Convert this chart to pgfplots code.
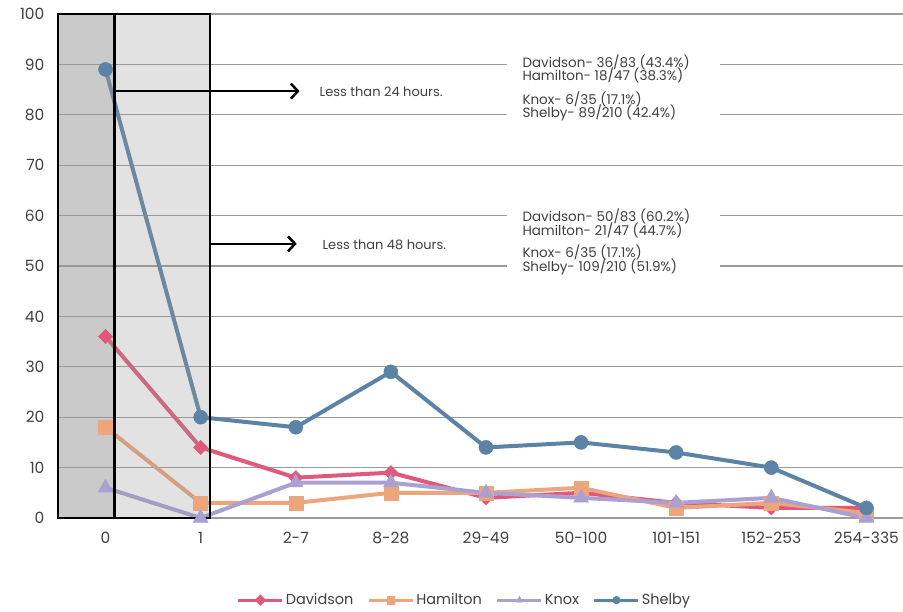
\documentclass[border=0pt]{standalone}
\usepackage{fontspec}
\setmainfont{Poppins}
\usepackage{pgfplots}
\usepackage{pgfplotstable}
\pgfplotsset{compat=1.18}
\usetikzlibrary{arrows.meta}
\definecolor{dav}{RGB}{224,88,122}
\definecolor{ham}{RGB}{236,165,125}
\definecolor{knox}{RGB}{170,160,210}
\definecolor{shel}{RGB}{92,130,166}
\definecolor{gridc}{RGB}{155,155,155}
\definecolor{tickc}{RGB}{64,64,64}
\definecolor{shadegray}{RGB}{150,150,150}

% counts per delay bucket (hours)
\pgfplotstableread{
x dav ham knox shel
0 36 18 6 89
1 14 3 0 20
2 8 3 7 18
3 9 5 7 29
4 4 5 5 14
5 5 6 4 15
6 3 2 3 13
7 2 3 4 10
8 2 1 0 2
}\delays

\begin{document}
\begin{tikzpicture}[x=1pt,y=1pt]
\useasboundingbox (0,0) rectangle (903,611);
\begin{axis}[
  at={(58pt,93pt)}, anchor=south west,
  scale only axis, width=847pt, height=504pt,
  xmin=-0.5, xmax=8.406, ymin=0, ymax=100,
  xtick={0,...,8},
  xticklabels={0,1,2-7,8-28,29-49,50-100,101-151,152-253,254-335},
  ytick={0,10,...,100},
  ymajorgrids,
  major grid style={gridc, line width=1.2pt},
  axis line style={draw=none},
  major tick length=0pt,
  tick style={draw=none},
  ticklabel style={font=\fontsize{15.5}{17}\selectfont, text=tickc},
  /pgf/number format/assume math mode=true,
  yticklabel style={xshift=-10pt},
  xticklabel style={yshift=-11pt},
  clip=false,
  legend columns=4,
  legend cell align=left,
  legend style={at={(0.48,-0.163)}, anchor=center, draw=none,
    font=\fontsize{14.5}{16}\selectfont, text=tickc,
    /tikz/every even column/.append style={column sep=12pt}},
  legend image code/.code={
    \draw[mark repeat=2, mark phase=2, line width=2.8pt, mark size=3.8pt]
      plot coordinates {(0pt,0pt) (22pt,0pt) (44pt,0pt)};},
]
\addplot[dav, line width=4pt, mark=square*, mark size=5pt,
  mark options={solid, rotate=45, line width=0.5pt}] table[x=x, y=dav] {\delays};
\addlegendentry{Davidson}
\addplot[ham, line width=4pt, mark=square*, mark size=7pt,
  mark options={solid, line width=0.5pt}] table[x=x, y=ham] {\delays};
\addlegendentry{Hamilton}
\addplot[knox, line width=4pt, mark=triangle*, mark size=8.5pt,
  mark options={solid, line width=0.5pt}] table[x=x, y=knox] {\delays};
\addlegendentry{Knox}
\addplot[shel, line width=4pt, mark=*, mark size=7pt,
  mark options={solid, line width=0.5pt}] table[x=x, y=shel] {\delays};
\addlegendentry{Shelby}

% shaded windows: < 24 h and < 48 h
\fill[shadegray, opacity=0.5] (axis cs:-0.5,0) rectangle (axis cs:0.095,100);
\fill[shadegray, opacity=0.28] (axis cs:0.095,0) rectangle (axis cs:1.10,100);
\draw[black, line width=2.2pt] (axis cs:-0.5,0) rectangle (axis cs:1.10,100);
\draw[black, line width=2.2pt] (axis cs:0.095,0) -- (axis cs:0.095,100);

\draw[line width=2.5pt, -{Straight Barb[length=7pt, width=15pt]}]
  (axis cs:0.095,84.7) -- (axis cs:2.04,84.7);
\draw[line width=2.5pt, -{Straight Barb[length=7pt, width=15pt]}]
  (axis cs:1.10,54.4) -- (axis cs:2.01,54.4);
\node[anchor=west, inner sep=0pt, font=\fontsize{13}{15}\selectfont, text=tickc]
  at (axis cs:2.25,84.5) {Less than 24 hours.};
\node[anchor=west, inner sep=0pt, font=\fontsize{13}{15}\selectfont, text=tickc]
  at (axis cs:2.28,54.3) {Less than 48 hours.};

% summary boxes
\fill[white] (axis cs:4.217,77.5) rectangle (axis cs:6.456,92);
\fill[white] (axis cs:4.217,47.5) rectangle (axis cs:6.456,62);
\begin{scope}[every node/.style={anchor=base west, inner sep=0pt,
    font=\fontsize{13.5}{15}\selectfont, text=tickc}]
\node at (axis cs:4.382,89.43) {Davidson- 36/83 (43.4\%)};
\node at (axis cs:4.382,86.77) {Hamilton- 18/47 (38.3\%)};
\node at (axis cs:4.382,82.14) {Knox- 6/35 (17.1\%)};
\node at (axis cs:4.382,79.50) {Shelby- 89/210 (42.4\%)};
\node at (axis cs:4.382,58.79) {Davidson- 50/83 (60.2\%)};
\node at (axis cs:4.382,56.15) {Hamilton- 21/47 (44.7\%)};
\node at (axis cs:4.382,51.59) {Knox- 6/35 (17.1\%)};
\node at (axis cs:4.382,48.81) {Shelby- 109/210 (51.9\%)};
\end{scope}
\end{axis}
\end{tikzpicture}
\end{document}
